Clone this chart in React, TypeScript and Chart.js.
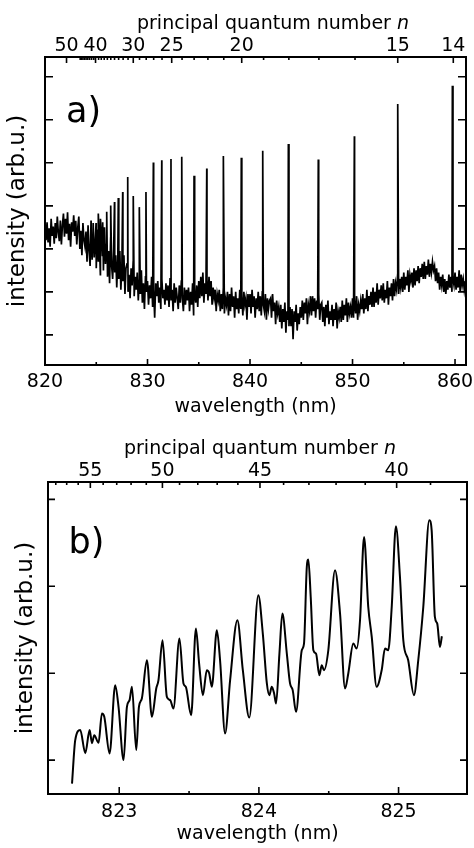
import React, { useEffect, useRef } from 'react';
import { Chart, registerables } from 'chart.js';

Chart.register(...registerables);

const FONT = 'DejaVu Sans';

// ---------- Rydberg conversion used for the upper (principal quantum number) axis ----------
const SERIES_LIMIT = 12190.0; // cm^-1
const RYDBERG = 109737; // cm^-1
const wlOfN = (n: number) => 1e7 / (SERIES_LIMIT - RYDBERG / (n * n));

// ---------- Panel a: survey spectrum ----------
const specStartA = 820.0;
const specStepA = 0.1;
const specA: number[] = [
  3.55, 3.2, 3.62, 3.15, 3.48, 3.05, 3.7, 3.3, 3.52, 3.12,
  3.6, 3.25, 3.75, 3.38, 3.18, 3.66, 3.1, 3.55, 3.82, 3.28,
  3.7, 3.35, 3.85, 3.2, 3.58, 3.05, 3.62, 3.4, 3.78, 3.3,
  3.65, 3.1, 3.5, 3.75, 3.0, 3.42, 2.85, 3.6, 3.2, 3.05,
  3.4, 2.7, 3.55, 2.95, 2.6, 3.3, 2.75, 3.6, 2.8, 3.15,
  2.55, 3.45, 2.7, 3.2, 2.4, 3.35, 2.85, 2.5, 3.5, 2.65,
  3.1, 2.35, 2.95, 2.2, 3.25, 2.6, 2.3, 3.0, 2.45, 2.85,
  2.1, 2.75, 2.3, 2.95, 2.05, 2.6, 2.25, 2.85, 1.95, 2.55,
  2.65, 2.0, 2.4, 1.85, 2.55, 2.15, 2.7, 1.9, 2.35, 2.05,
  2.45, 1.8, 2.3, 1.95, 2.5, 1.75, 2.2, 1.6, 2.35, 2.0,
  2.25, 1.7, 2.15, 1.85, 2.35, 1.65, 2.05, 1.4, 2.2, 1.9,
  2.25, 1.75, 2.1, 1.6, 2.3, 1.85, 2.05, 1.7, 2.2, 1.8,
  2.15, 1.65, 2.3, 1.8, 2.05, 1.55, 2.2, 1.75, 2.1, 1.85,
  1.6, 2.15, 1.75, 2.25, 1.85, 1.55, 2.1, 1.7, 2.05, 1.8,
  2.1, 1.55, 2.0, 1.7, 2.2, 1.45, 1.95, 1.75, 2.15, 1.65,
  2.25, 1.85, 2.35, 1.9, 2.45, 1.75, 2.2, 1.95, 2.3, 1.8,
  2.35, 1.9, 2.25, 1.7, 2.1, 1.85, 2.05, 1.55, 1.95, 1.8,
  2.05, 1.55, 1.95, 1.6, 2.1, 1.5, 1.85, 1.7, 2.0, 1.45,
  1.95, 1.55, 2.1, 1.65, 1.9, 1.4, 2.0, 1.6, 1.85, 1.5,
  2.05, 1.6, 1.9, 1.45, 2.0, 1.7, 1.85, 1.35, 1.95, 1.65,
  1.95, 1.5, 2.05, 1.65, 1.9, 1.4, 1.85, 1.6, 2.0, 1.55,
  1.9, 1.45, 2.0, 1.7, 1.55, 1.95, 1.35, 1.85, 1.6, 1.8,
  1.85, 1.4, 1.95, 1.55, 1.75, 1.25, 1.8, 1.5, 1.65, 1.3,
  1.7, 1.15, 1.6, 1.3, 1.75, 1.05, 1.55, 1.35, 1.2, 1.65,
  1.2, 1.6, 0.9, 1.55, 1.3, 1.7, 1.1, 1.5, 1.25, 1.65,
  1.4, 1.8, 1.35, 1.75, 1.5, 1.85, 1.25, 1.7, 1.55, 1.9,
  1.45, 1.9, 1.55, 1.85, 1.4, 1.8, 1.6, 1.95, 1.35, 1.7,
  1.75, 1.3, 1.65, 1.2, 1.7, 1.4, 1.8, 1.25, 1.55, 1.35,
  1.7, 1.2, 1.6, 1.35, 1.75, 1.15, 1.55, 1.4, 1.65, 1.3,
  1.8, 1.35, 1.7, 1.45, 1.85, 1.3, 1.75, 1.5, 1.65, 1.4,
  1.85, 1.4, 1.75, 1.5, 1.9, 1.35, 1.7, 1.55, 1.8, 1.6,
  1.95, 1.5, 1.85, 1.6, 2.05, 1.55, 1.9, 1.7, 2.0, 1.65,
  2.1, 1.65, 2.0, 1.75, 2.2, 1.7, 2.05, 1.85, 2.15, 1.8,
  2.2, 1.75, 2.05, 1.85, 2.25, 1.7, 2.1, 1.9, 2.2, 1.8,
  2.3, 1.9, 2.2, 2.05, 2.4, 1.95, 2.3, 2.1, 2.35, 2.0,
  2.45, 2.05, 2.35, 2.15, 2.5, 2.0, 2.4, 2.25, 2.45, 2.1,
  2.55, 2.15, 2.5, 2.25, 2.6, 2.2, 2.55, 2.35, 2.65, 2.3,
  2.7, 2.3, 2.6, 2.4, 2.75, 2.35, 2.65, 2.45, 2.7, 2.5,
  2.6, 2.25, 2.55, 2.2, 2.45, 2.05, 2.35, 2.15, 2.4, 2.0,
  2.3, 1.95, 2.25, 2.05, 2.4, 2.1, 2.35, 2.0, 2.3, 2.15,
  2.45, 2.05, 2.35, 2.1, 2.5, 2.0, 2.4, 2.15, 2.3, 2.05,
  2.25,
];
const peakWlA = [
  824.49, 824.98, 825.2, 825.41, 825.63, 826.02, 826.41, 826.78, 827.15, 827.58,
  828.07, 828.61, 829.2, 829.85, 830.57, 831.39, 832.29, 833.34, 834.54, 835.78,
  837.4, 839.15, 841.24, 843.74, 846.66, 850.18, 854.41, 859.74,
];
const peakIntA = [
  3.66, 3.6, 3.82, 3.7, 3.62, 3.86, 4.01, 4.09, 4.18, 4.32,
  4.67, 4.23, 3.97, 4.32, 5.01, 5.06, 5.09, 5.14, 4.7, 4.87,
  5.16, 5.12, 5.28, 5.44, 5.08, 5.62, 6.37, 6.79,
];
const wlTicksA = [820, 825, 830, 835, 840, 845, 850, 855, 860];
const wlTickLabelsA = ['820', '', '830', '', '840', '', '850', '', '860'];
const yTicksA = [1, 2, 3, 4, 5, 6, 7];
const nLabelsA = ['50', '40', '30', '25', '20', '15', '14'];
const nLabelWlA = [822.1, 824.93, 828.61, 832.36, 839.19, 854.41, 859.83];
const nMinorA = [16, 17, 18, 19, 21, 22, 23, 24, 26, 27, 28, 29, 31, 32, 33, 34, 35, 36, 37, 38, 39, 41, 42, 43, 44, 45, 46, 47, 48, 49];

// ---------- Panel b: high-resolution scan ----------
const wlB = [
  822.662, 822.685, 822.721, 822.757, 822.788, 822.805, 822.821, 822.852, 822.876, 822.893,
  822.931, 822.971, 822.995, 823.031, 823.055, 823.074, 823.091, 823.122, 823.141, 823.162,
  823.198, 823.234, 823.265, 823.281, 823.31, 823.341, 823.365, 823.388, 823.431, 823.46,
  823.477, 823.515, 823.549, 823.572, 823.599, 823.627, 823.644, 823.663, 823.699, 823.722,
  823.758, 823.794, 823.846, 823.885, 823.931, 823.996, 824.028, 824.057, 824.075, 824.092,
  824.109, 824.123, 824.147, 824.168, 824.2, 824.223, 824.242, 824.266, 824.307, 824.323,
  824.343, 824.354, 824.371, 824.39, 824.409, 824.433, 824.45, 824.466, 824.497, 824.545,
  824.581, 824.617, 824.64, 824.676, 824.7, 824.724, 824.753, 824.783, 824.808, 824.843,
  824.879, 824.903, 824.926, 824.951, 824.981, 825.01, 825.034, 825.069, 825.11, 825.141,
  825.177, 825.22, 825.237, 825.26, 825.277, 825.296, 825.31,
];
const intB = [
  0.73, 1.23, 1.345, 1.08, 1.345, 1.195, 1.287, 1.199, 1.537, 1.498,
  1.077, 1.862, 1.613, 1.0, 1.613, 1.69, 1.843, 1.115, 1.613, 1.709,
  2.149, 1.498, 1.824, 1.92, 2.379, 1.728, 1.69, 1.594, 2.399, 1.882,
  1.843, 1.517, 2.514, 2.111, 1.747, 2.034, 2.0, 1.843, 2.494, 2.149,
  1.307, 1.92, 2.609, 2.034, 1.489, 2.897, 2.456, 1.882, 1.747, 1.843,
  1.767, 1.652, 2.226, 2.686, 2.226, 1.882, 1.805, 1.555, 2.264, 2.341,
  3.222, 3.307, 2.877, 2.264, 2.226, 1.977, 2.092, 2.034, 2.264, 3.184,
  2.686, 1.824, 1.997, 2.341, 2.284, 2.609, 3.567, 2.762, 2.417, 1.843,
  2.034, 2.284, 2.264, 2.762, 3.69, 3.107, 2.379, 2.149, 1.747, 2.149,
  2.762, 3.759, 3.644, 2.647, 2.571, 2.302, 2.425,
];
const wlTicksB = [823, 823.5, 824, 824.5, 825];
const wlTickLabelsB = ['823', '', '824', '', '825'];
const yTicksB = [1, 2, 3, 4];
const nLabelsB = [55, 50, 45, 40];
const nAllB = [39, 40, 41, 42, 43, 44, 45, 46, 47, 48, 49, 50, 51, 52, 53, 54, 55, 56, 57, 58];

type TopTick = { wl: number; label: string };

const topTicksA: TopTick[] = [
  ...nLabelWlA.map((wl, i) => ({ wl, label: nLabelsA[i] })),
  ...nMinorA.map((n) => ({ wl: wlOfN(n), label: '' })),
].sort((p, q) => p.wl - q.wl);

const topTicksB: TopTick[] = nAllB
  .map((n) => ({ wl: wlOfN(n), label: nLabelsB.includes(n) ? String(n) : '' }))
  .sort((p, q) => p.wl - q.wl);

const pointsA = [
  ...specA.map((v, i) => ({ x: +(specStartA + i * specStepA).toFixed(2), y: v })),
  ...peakWlA.map((w, i) => ({ x: w, y: peakIntA[i] })),
].sort((p, q) => p.x - q.x);

const pointsB = wlB.map((w, i) => ({ x: w, y: intB[i] }));

type PanelCfg = {
  width: number;
  height: number;
  points: { x: number; y: number }[];
  lineWidth: number;
  smooth: boolean;
  xMin: number;
  xMax: number;
  yMin: number;
  yMax: number;
  wlTicks: number[];
  wlLabels: string[];
  yTicks: number[];
  topTicks: TopTick[];
  topH: number;
  bottomH: number;
  leftW: number;
  rightPad: number;
  tickPadBottom: number;
  tickPadTop: number;
  xTitlePad: number;
  yTitlePad: number;
  panelLabel: string;
  labelX: number;
  labelY: number;
  titleCx: number;
  titleY: number;
  bottomMajor: number;
  bottomMinor: number;
  topMajor: number;
  topMinor: number;
  yTickLen: number;
};

const decorPlugin = (cfg: PanelCfg) => ({
  id: 'decor',
  afterDraw(chart: any) {
    const { ctx, chartArea: a } = chart;
    ctx.save();
    ctx.strokeStyle = '#000';
    ctx.fillStyle = '#000';
    ctx.lineWidth = 1.6;
    const drawX = (scale: any, edge: 'top' | 'bottom', major: number, minor: number) => {
      scale.ticks.forEach((t: any) => {
        const px = scale.getPixelForValue(t.value);
        if (px < a.left + 1.5 || px > a.right - 1.5) return;
        const len = t.label ? major : minor;
        ctx.beginPath();
        if (edge === 'bottom') {
          ctx.moveTo(px, a.bottom);
          ctx.lineTo(px, a.bottom - len);
        } else {
          ctx.moveTo(px, a.top);
          ctx.lineTo(px, a.top + len);
        }
        ctx.stroke();
      });
    };
    drawX(chart.scales.x, 'bottom', cfg.bottomMajor, cfg.bottomMinor);
    drawX(chart.scales.xTop, 'top', cfg.topMajor, cfg.topMinor);
    const ys = chart.scales.y;
    ys.ticks.forEach((t: any) => {
      const py = ys.getPixelForValue(t.value);
      if (py < a.top + 1.5 || py > a.bottom - 1.5) return;
      ctx.beginPath();
      ctx.moveTo(a.left, py);
      ctx.lineTo(a.left + cfg.yTickLen, py);
      ctx.moveTo(a.right, py);
      ctx.lineTo(a.right - cfg.yTickLen, py);
      ctx.stroke();
    });
    ctx.lineWidth = 2;
    ctx.strokeRect(a.left, a.top, a.right - a.left, a.bottom - a.top);

    ctx.textAlign = 'left';
    ctx.textBaseline = 'alphabetic';
    ctx.font = `35px "${FONT}"`;
    ctx.fillText(cfg.panelLabel, cfg.labelX, cfg.labelY);

    const main = 'principal quantum number ';
    ctx.font = `19px "${FONT}"`;
    const w1 = ctx.measureText(main).width;
    ctx.font = `italic 19px "${FONT}"`;
    const w2 = ctx.measureText('n').width;
    const x0 = cfg.titleCx - (w1 + w2) / 2;
    ctx.font = `19px "${FONT}"`;
    ctx.fillText(main, x0, cfg.titleY);
    ctx.font = `italic 19px "${FONT}"`;
    ctx.fillText('n', x0 + w1, cfg.titleY);
    ctx.restore();
  },
});

const makeConfig = (cfg: PanelCfg): any => {
  const tickFont = { family: FONT, size: 19 };
  return {
    type: 'line',
    data: {
      datasets: [
        {
          data: cfg.points,
          borderColor: '#000',
          borderWidth: cfg.lineWidth,
          pointRadius: 0,
          fill: false,
          tension: 0,
          cubicInterpolationMode: cfg.smooth ? 'monotone' : 'default',
        },
      ],
    },
    options: {
      animation: false,
      responsive: false,
      maintainAspectRatio: false,
      events: [],
      layout: { padding: { left: 0, right: cfg.rightPad, top: 0, bottom: 0 } },
      plugins: { legend: { display: false }, tooltip: { enabled: false }, title: { display: false } },
      scales: {
        x: {
          type: 'linear',
          position: 'bottom',
          min: cfg.xMin,
          max: cfg.xMax,
          grid: { display: false, drawTicks: false },
          border: { display: false },
          afterBuildTicks: (s: any) => {
            s.ticks = cfg.wlTicks.map((v) => ({ value: v }));
          },
          ticks: {
            autoSkip: false,
            maxRotation: 0,
            minRotation: 0,
            padding: cfg.tickPadBottom,
            color: '#000',
            font: tickFont,
            callback: (_v: any, i: number) => cfg.wlLabels[i],
          },
          title: {
            display: true,
            text: 'wavelength (nm)',
            color: '#000',
            font: { family: FONT, size: 19 },
            padding: { top: 0, bottom: cfg.xTitlePad },
          },
          afterFit: (s: any) => {
            s.height = cfg.bottomH;
            s.paddingLeft = 0;
            s.paddingRight = 0;
          },
        },
        xTop: {
          type: 'linear',
          position: 'top',
          min: cfg.xMin,
          max: cfg.xMax,
          grid: { display: false, drawTicks: false },
          border: { display: false },
          afterBuildTicks: (s: any) => {
            s.ticks = cfg.topTicks.map((t) => ({ value: t.wl }));
          },
          ticks: {
            autoSkip: false,
            maxRotation: 0,
            minRotation: 0,
            padding: cfg.tickPadTop,
            color: '#000',
            font: tickFont,
            callback: (_v: any, i: number) => cfg.topTicks[i].label,
          },
          afterFit: (s: any) => {
            s.height = cfg.topH;
            s.paddingLeft = 0;
            s.paddingRight = 0;
          },
        },
        y: {
          type: 'linear',
          position: 'left',
          min: cfg.yMin,
          max: cfg.yMax,
          grid: { display: false, drawTicks: false },
          border: { display: false },
          afterBuildTicks: (s: any) => {
            s.ticks = cfg.yTicks.map((v) => ({ value: v }));
          },
          ticks: { display: false },
          title: {
            display: true,
            text: 'intensity (arb.u.)',
            color: '#000',
            font: { family: FONT, size: 23 },
            padding: { top: cfg.yTitlePad, bottom: 0 },
          },
          afterFit: (s: any) => {
            s.width = cfg.leftW;
            s.paddingTop = 0;
            s.paddingBottom = 0;
          },
        },
      },
    },
    plugins: [decorPlugin(cfg)],
  };
};

const panelA: PanelCfg = {
  width: 474,
  height: 420,
  points: pointsA,
  lineWidth: 1.7,
  smooth: false,
  xMin: 820,
  xMax: 861.07,
  yMin: 0.3,
  yMax: 7.46,
  wlTicks: wlTicksA,
  wlLabels: wlTickLabelsA,
  yTicks: yTicksA,
  topTicks: topTicksA,
  topH: 57,
  bottomH: 55,
  leftW: 45,
  rightPad: 8,
  tickPadBottom: 6,
  tickPadTop: 0,
  xTitlePad: 2,
  yTitlePad: 4,
  panelLabel: 'a)',
  labelX: 66,
  labelY: 122,
  titleCx: 273,
  titleY: 28.5,
  bottomMajor: 6,
  bottomMinor: 3,
  topMajor: 6,
  topMinor: 3,
  yTickLen: 8,
};

const panelB: PanelCfg = {
  width: 474,
  height: 428,
  points: pointsB,
  lineWidth: 2,
  smooth: true,
  xMin: 822.49,
  xMax: 825.49,
  yMin: 0.61,
  yMax: 4.2,
  wlTicks: wlTicksB,
  wlLabels: wlTickLabelsB,
  yTicks: yTicksB,
  topTicks: topTicksB,
  topH: 62,
  bottomH: 54,
  leftW: 48,
  rightPad: 7,
  tickPadBottom: 7,
  tickPadTop: 0,
  xTitlePad: 3,
  yTitlePad: 12,
  panelLabel: 'b)',
  labelX: 68.5,
  labelY: 132.5,
  titleCx: 260,
  titleY: 33.7,
  bottomMajor: 7,
  bottomMinor: 3,
  topMajor: 6,
  topMinor: 3,
  yTickLen: 7,
};

function Panel({ cfg, top }: { cfg: PanelCfg; top: number }) {
  const ref = useRef<HTMLCanvasElement | null>(null);
  useEffect(() => {
    if (!ref.current) return;
    const chart = new Chart(ref.current, makeConfig(cfg));
    return () => chart.destroy();
  }, [cfg]);
  return (
    <canvas
      ref={ref}
      width={cfg.width}
      height={cfg.height}
      style={{ position: 'absolute', left: 0, top, width: cfg.width, height: cfg.height, display: 'block' }}
    />
  );
}

export default function App() {
  return (
    <div style={{ position: 'absolute', left: 0, top: 0, width: 474, height: 848, background: '#fff', overflow: 'hidden' }}>
      <Panel cfg={panelA} top={0} />
      <Panel cfg={panelB} top={420} />
    </div>
  );
}
